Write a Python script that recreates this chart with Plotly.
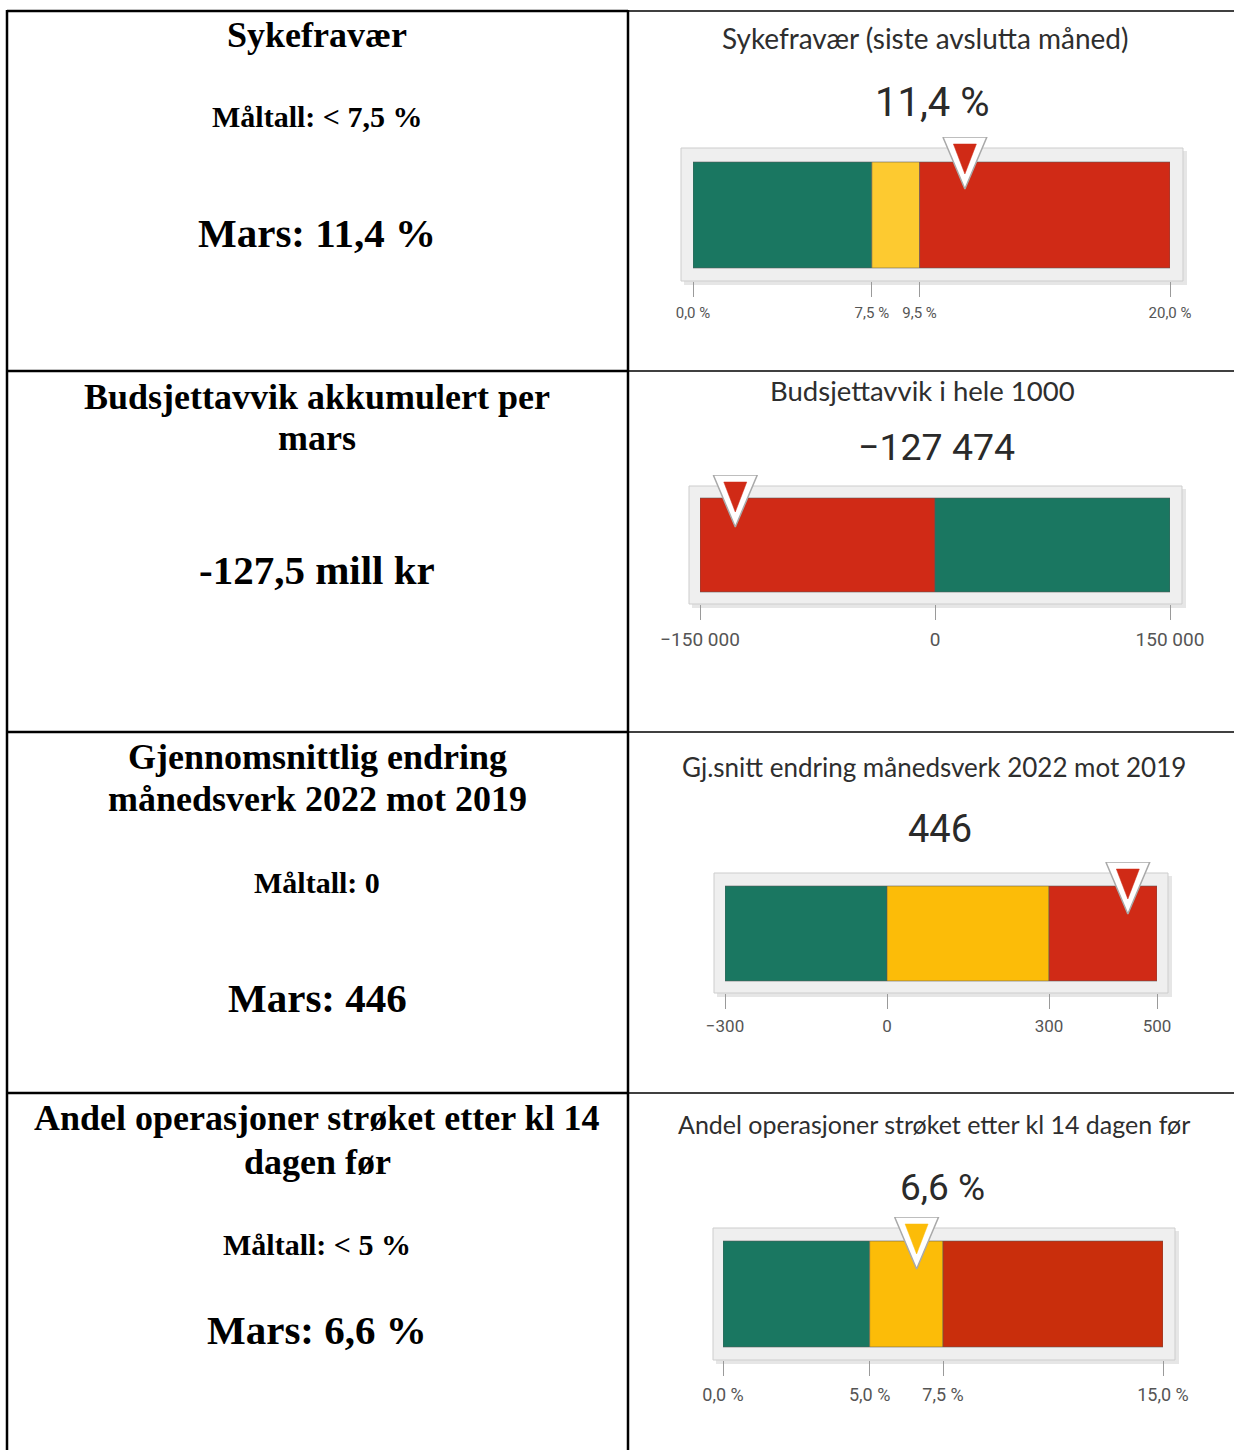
import plotly.graph_objects as go

# ---------------- data ----------------
left_titles = [
    ["Sykefravær"],
    ["Budsjettavvik akkumulert per", "mars"],
    ["Gjennomsnittlig endring", "månedsverk 2022 mot 2019"],
    ["Andel operasjoner strøket etter kl 14", "dagen før"],
]
left_targets = ["Måltall: < 7,5 %", None, "Måltall: 0", "Måltall: < 5 %"]
left_values = ["Mars: 11,4 %", "-127,5 mill kr", "Mars: 446", "Mars: 6,6 %"]

gauge_titles = [
    "Sykefravær (siste avslutta måned)",
    "Budsjettavvik i hele 1000",
    "Gj.snitt endring månedsverk 2022 mot 2019",
    "Andel operasjoner strøket etter kl 14 dagen før",
]
gauge_values = [11.4, -127474, 446, 6.6]
gauge_value_labels = ["11,4 %", "\u2212127 474", "446", "6,6 %"]
band_edges = [
    [0, 7.5, 9.5, 20],
    [-150000, 0, 150000],
    [-300, 0, 300, 500],
    [0, 5, 7.5, 15],
]
band_kinds = [
    ["good", "warn", "bad"],
    ["bad", "good"],
    ["good", "warn", "bad"],
    ["good", "warn", "bad"],
]
tick_labels = [
    ["0,0 %", "7,5 %", "9,5 %", "20,0 %"],
    ["\u2212150 000", "0", "150 000"],
    ["\u2212300", "0", "300", "500"],
    ["0,0 %", "5,0 %", "7,5 %", "15,0 %"],
]

# ---------------- styles / layout geometry ----------------
W, H = 1234, 1450
palette = [
    {"good": "#1a7761", "warn": "#fdca30", "bad": "#d02a16"},
    {"good": "#1a7761", "warn": "#fdca30", "bad": "#d02a16"},
    {"good": "#1a7761", "warn": "#fcbc08", "bad": "#d02a16"},
    {"good": "#1a7761", "warn": "#fcbc08", "bad": "#c92e0c"},
]
geo = [
    dict(bx=(693, 1170), by=(162, 268), fx=(681, 1183), fy=(148, 281), title=(925, 38), value=(932, 103),
         tsize=28, vsize=40, ksize=15),
    dict(bx=(700, 1170), by=(498, 592), fx=(689, 1182), fy=(486, 604), title=(922, 390), value=(936, 447),
         tsize=27.5, vsize=37.5, ksize=19),
    dict(bx=(725, 1157), by=(886, 981), fx=(714, 1168), fy=(873, 993), title=(934, 767), value=(940, 829),
         tsize=26, vsize=38, ksize=17),
    dict(bx=(723, 1163), by=(1241, 1347), fx=(713, 1175), fy=(1228, 1360), title=(934, 1124), value=(942, 1187),
         tsize=25, vsize=37, ksize=18),
]
left_rows = [
    dict(title=[35], target=117, value=233),
    dict(title=[397, 438], target=None, value=570),
    dict(title=[757, 799], target=882, value=998),
    dict(title=[1118, 1162], target=1244, value=1330),
]


def px(x):
    return x / W


def py(y):
    return 1 - y / H


fig = go.Figure()
shapes = []
annotations = []
layout_axes = {}

for i in range(4):
    g = geo[i]
    ax = "" if i == 0 else str(i + 1)
    xname, yname = "x" + ax, "y" + ax
    edges = band_edges[i]
    xmin, xmax = edges[0], edges[-1]
    bar_h = g["by"][1] - g["by"][0]
    bar_w = g["bx"][1] - g["bx"][0]
    tri_top_px = g["fy"][0] - 11
    tri_tip_px = tri_top_px + 52
    ymin = -(g["fy"][1] - g["by"][1]) / bar_h
    ymax = (g["by"][1] - tri_top_px) / bar_h

    for k in range(len(edges) - 1):
        fig.add_trace(go.Bar(
            orientation="h", y=[0.5], x=[edges[k + 1] - edges[k]], base=[edges[k]],
            width=1, xaxis=xname, yaxis=yname,
            marker=dict(color=palette[i][band_kinds[i][k]],
                        line=dict(color="rgba(90,90,90,0.55)", width=1)),
            hoverinfo="skip", showlegend=False,
        ))

    v = gauge_values[i]
    unit = (xmax - xmin) / bar_w
    kind = band_kinds[i][-1]
    for k in range(len(edges) - 1):
        if edges[k] <= v <= edges[k + 1]:
            kind = band_kinds[i][k]
            break
    to_y = lambda ypx, g=g, bar_h=bar_h: (g["by"][1] - ypx) / bar_h
    hw_o = 22 * unit
    fig.add_trace(go.Scatter(
        x=[v - hw_o, v + hw_o, v, v - hw_o],
        y=[ymax, ymax, to_y(tri_tip_px), ymax],
        mode="lines", fill="toself", fillcolor="#ffffff",
        line=dict(color="#a9a9a9", width=1.5),
        xaxis=xname, yaxis=yname, hoverinfo="skip", showlegend=False,
    ))
    hw_i = 11.5 * unit
    fig.add_trace(go.Scatter(
        x=[v - hw_i, v + hw_i, v, v - hw_i],
        y=[to_y(tri_top_px + 7), to_y(tri_top_px + 7), to_y(tri_tip_px - 15), to_y(tri_top_px + 7)],
        mode="lines", fill="toself", fillcolor=palette[i][kind],
        line=dict(color=palette[i][kind], width=0.5),
        xaxis=xname, yaxis=yname, hoverinfo="skip", showlegend=False,
    ))

    layout_axes["xaxis" + ax] = dict(
        domain=[px(g["bx"][0]), px(g["bx"][1])], range=[xmin, xmax],
        anchor=yname, showgrid=False, zeroline=False, showline=False, automargin=False,
        ticks="outside", ticklen=15, tickwidth=1, tickcolor="#9a9a9a",
        ticklabelstandoff=3,
        tickvals=edges, ticktext=tick_labels[i],
        tickfont=dict(family="Roboto", size=g["ksize"], color="#555555"),
        fixedrange=True,
    )
    layout_axes["yaxis" + ax] = dict(
        domain=[py(g["fy"][1]), py(tri_top_px)], range=[ymin, ymax],
        anchor=xname, visible=False, automargin=False, fixedrange=True,
    )

    shapes.append(dict(type="rect", xref="paper", yref="paper", layer="below",
                       x0=px(g["fx"][0] + 3), x1=px(g["fx"][1] + 4),
                       y0=py(g["fy"][1] + 4), y1=py(g["fy"][0] + 3),
                       fillcolor="#e6e6e6", line=dict(width=0)))
    shapes.append(dict(type="rect", xref="paper", yref="paper", layer="below",
                       x0=px(g["fx"][0]), x1=px(g["fx"][1]),
                       y0=py(g["fy"][1]), y1=py(g["fy"][0]),
                       fillcolor="#efefef", line=dict(color="#cdcdcd", width=1)))

    annotations.append(dict(xref="paper", yref="paper", x=px(g["title"][0]), y=py(g["title"][1]),
                            text=gauge_titles[i], showarrow=False, xanchor="center", yanchor="middle",
                            font=dict(family="Lato", size=g["tsize"], color="#2e2e2e")))
    annotations.append(dict(xref="paper", yref="paper", x=px(g["value"][0]), y=py(g["value"][1]),
                            text=gauge_value_labels[i], showarrow=False, xanchor="center", yanchor="middle",
                            font=dict(family="Roboto", size=g["vsize"], color="#2a2a2a")))

serif = "Liberation Serif"
for i in range(4):
    r = left_rows[i]
    for line, yy in zip(left_titles[i], r["title"]):
        annotations.append(dict(xref="paper", yref="paper", x=px(317), y=py(yy), text=line,
                                showarrow=False, xanchor="center", yanchor="middle",
                                font=dict(family=serif, size=36, color="#000000", weight="bold")))
    if left_targets[i] is not None:
        annotations.append(dict(xref="paper", yref="paper", x=px(317), y=py(r["target"]),
                                text=left_targets[i], showarrow=False, xanchor="center", yanchor="middle",
                                font=dict(family=serif, size=30, color="#000000", weight="bold")))
    annotations.append(dict(xref="paper", yref="paper", x=px(317), y=py(r["value"]),
                            text=left_values[i], showarrow=False, xanchor="center", yanchor="middle",
                            font=dict(family=serif, size=41, color="#000000", weight="bold")))

# table grid: heavy lines in left column, thin lines in right column
heavy = dict(color="#000000", width=2.5)
thin = dict(color="#000000", width=1.3)
shapes.append(dict(type="line", xref="paper", yref="paper", layer="above",
                   x0=px(7), x1=px(7), y0=py(10), y1=py(1450), line=heavy))
shapes.append(dict(type="line", xref="paper", yref="paper", layer="above",
                   x0=px(628), x1=px(628), y0=py(10), y1=py(1450), line=heavy))
for yy in [11, 371, 732, 1093]:
    shapes.append(dict(type="line", xref="paper", yref="paper", layer="above",
                       x0=px(7), x1=px(628), y0=py(yy), y1=py(yy), line=heavy))
    shapes.append(dict(type="line", xref="paper", yref="paper", layer="above",
                       x0=px(628), x1=px(1234), y0=py(yy), y1=py(yy), line=thin))

fig.update_layout(
    template="none",
    width=W, height=H, margin=dict(l=0, r=0, t=0, b=0, pad=0, autoexpand=False),
    paper_bgcolor="#ffffff", plot_bgcolor="rgba(0,0,0,0)",
    barmode="overlay", showlegend=False,
    shapes=shapes, annotations=annotations, **layout_axes,
)

fig.write_html(
    "out.html",
    config={"responsive": False, "displayModeBar": False},
    post_script="document.body.style.margin='0';document.body.style.overflow='hidden';",
)
